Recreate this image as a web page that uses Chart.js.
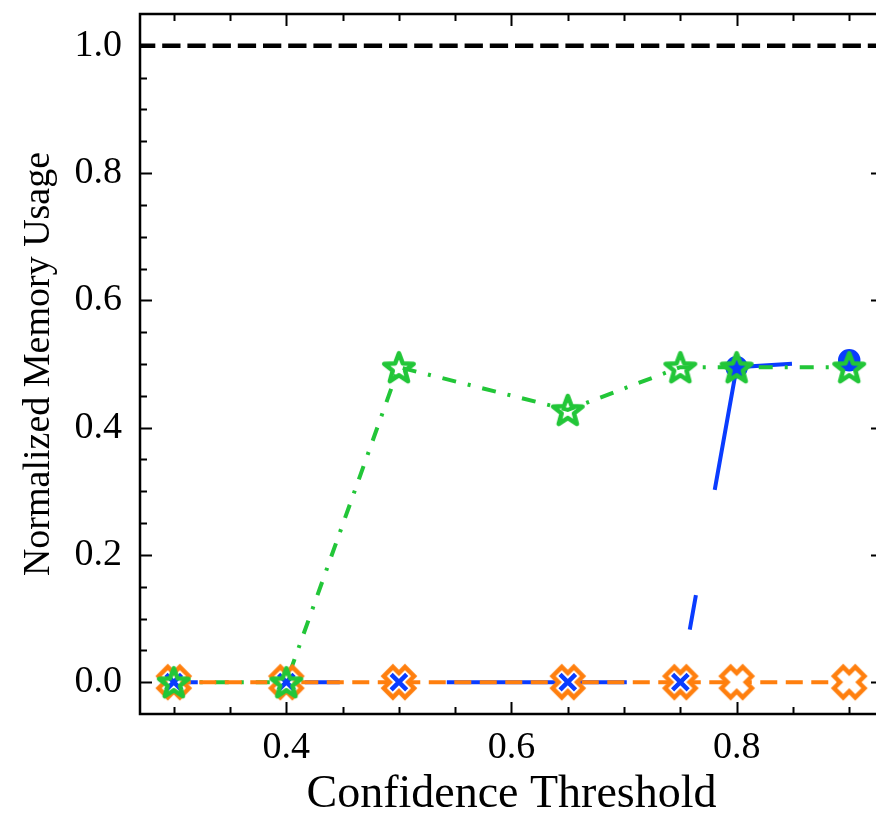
<!DOCTYPE html>
<html>
<head>
<meta charset="utf-8">
<script src="https://cdn.jsdelivr.net/npm/chart.js@4.4.1/dist/chart.umd.min.js"></script>
<style>
html,body{margin:0;padding:0;background:#fff;overflow:hidden;}
#wrap{position:absolute;left:0;top:-3px;width:900px;height:818px;}
</style>
</head>
<body>
<div id="wrap"><canvas id="c" width="900" height="818"></canvas></div>
<script>
// ---- data ----
const thresholds = [0.3, 0.4, 0.5, 0.65, 0.75, 0.8, 0.9];
const greenSeries = [0.0, 0.0, 0.495, 0.428, 0.495, 0.495, 0.495];
const blueSeries = [0.0, 0.0, 0.0, 0.0, 0.0, 0.495, 0.506];
const orangeSeries = [0.0, 0.0, 0.0, 0.0, 0.0, 0.0, 0.0];
const referenceLevel = 1.0;
const xMajorTicks = [0.4, 0.6, 0.8];
const xMinorTicks = [0.3, 0.35, 0.45, 0.5, 0.55, 0.65, 0.7, 0.75, 0.85, 0.9];
const yMajorTicks = [0.0, 0.2, 0.4, 0.6, 0.8, 1.0];
const yMinorTicks = [0.05,0.1,0.15,0.25,0.3,0.35,0.45,0.5,0.55,0.65,0.7,0.75,0.85,0.9,0.95];
const xRange = [0.27, 0.93];
const yRange = [-0.05, 1.05];
const xTitle = 'Confidence Threshold';
const yTitle = 'Normalized Memory Usage';

const GREEN = '#22c638';
const BLUE = '#0a3cff';
const ORANGE = '#ff7f0e';
const FONT = "'Liberation Serif', 'Times New Roman', serif";

function pts(ys){ return thresholds.map((x,i)=>({x:x, y:ys[i]})); }

// custom marker images
function makeStar(color, R, lw){
  const s = Math.ceil(2*R + lw + 4);
  const c = document.createElement('canvas'); c.width = s; c.height = s;
  const g = c.getContext('2d');
  g.translate(s/2, s/2 + R*0.1);
  g.beginPath();
  const r = R*0.42;
  for(let k=0;k<10;k++){
    const ang = -Math.PI/2 + k*Math.PI/5;
    const rr = (k%2===0)?R:r;
    const px = rr*Math.cos(ang), py = rr*Math.sin(ang);
    if(k===0) g.moveTo(px,py); else g.lineTo(px,py);
  }
  g.closePath();
  g.lineWidth = lw; g.strokeStyle = color; g.lineJoin = 'round';
  g.stroke();
  return c;
}
function makeFatX(color, b, a, lw){
  const ext = (a+b)/Math.SQRT2 + lw;
  const s = Math.ceil(2*ext + 2);
  const c = document.createElement('canvas'); c.width = s; c.height = s;
  const g = c.getContext('2d');
  g.translate(s/2, s/2);
  g.rotate(Math.PI/4);
  g.beginPath();
  const P = [[a,a],[b,a],[b,-a],[a,-a],[a,-b],[-a,-b],[-a,-a],[-b,-a],[-b,a],[-a,a],[-a,b],[a,b]];
  P.forEach((p,i)=>{ if(i===0) g.moveTo(p[0],p[1]); else g.lineTo(p[0],p[1]); });
  g.closePath();
  g.fillStyle = '#ffffff'; g.fill();
  g.lineWidth = lw; g.strokeStyle = color; g.lineJoin = 'miter';
  g.stroke();
  return c;
}
const starImg = makeStar(GREEN, 15.5, 4.5);
const xImg = makeFatX(ORANGE, 15, 6.5, 4.5);

// inward ticks + frame
const framePlugin = {
  id: 'frame',
  afterDatasetsDraw(chart){
    const {ctx, chartArea:ca, scales} = chart;
    const xs = scales.x, ys = scales.y;
    ctx.save();
    ctx.strokeStyle = '#000';
    ctx.lineWidth = 2;
    const MAJ = 12, MIN = 7;
    function xt(v, len){
      const p = Math.round(xs.getPixelForValue(v)) + 0.5;
      ctx.beginPath();
      ctx.moveTo(p, ca.bottom); ctx.lineTo(p, ca.bottom - len);
      ctx.moveTo(p, ca.top); ctx.lineTo(p, ca.top + len);
      ctx.stroke();
    }
    function yt(v, len){
      const p = Math.round(ys.getPixelForValue(v)) + 0.5;
      ctx.beginPath();
      ctx.moveTo(ca.left, p); ctx.lineTo(ca.left + len, p);
      ctx.moveTo(ca.right, p); ctx.lineTo(ca.right - len, p);
      ctx.stroke();
    }
    xMajorTicks.forEach(v=>xt(v,MAJ));
    xMinorTicks.forEach(v=>xt(v,MIN));
    yMajorTicks.forEach(v=>yt(v,MAJ));
    yMinorTicks.forEach(v=>yt(v,MIN));
    ctx.lineWidth = 2.5;
    ctx.strokeRect(ca.left, ca.top, ca.right-ca.left, ca.bottom-ca.top);
    ctx.restore();
  }
};

const lineBase = {showLine:true, pointRadius:0, pointHoverRadius:0, fill:false, tension:0, borderCapStyle:'butt'};
const markBase = {showLine:false};

new Chart(document.getElementById('c'), {
  type: 'scatter',
  data: {
    datasets: [
      Object.assign({label:'blue line', data:pts(blueSeries), borderColor:BLUE, borderWidth:4, borderDash:[180,107,35,107], borderDashOffset:156, order:7}, lineBase),
      Object.assign({label:'green line', data:pts(greenSeries), borderColor:GREEN, borderWidth:4, borderDash:[14,12,3,12], order:6}, lineBase),
      Object.assign({label:'orange line', data:pts(orangeSeries), borderColor:ORANGE, borderWidth:4, borderDash:[17,8.5], order:5}, lineBase),
      Object.assign({label:'orange marks', data:pts(orangeSeries), pointStyle:xImg, pointRadius:16, order:4}, markBase),
      Object.assign({label:'blue marks', data:pts(blueSeries),
        pointStyle:['crossRot','crossRot','crossRot','crossRot','crossRot','circle','circle'],
        pointRadius:[11,11,11,11,11,9,9], borderWidth:4.5, borderColor:BLUE, backgroundColor:BLUE, order:3}, markBase),
      Object.assign({label:'green marks', data:pts(greenSeries), pointStyle:starImg, pointRadius:16, order:2}, markBase),
      Object.assign({label:'reference', data:[{x:xRange[0], y:referenceLevel},{x:xRange[1], y:referenceLevel}],
        borderColor:'#000', borderWidth:4.5, borderDash:[18.3,6.9], borderDashOffset:3, order:1}, lineBase)
    ]
  },
  options: {
    responsive:false,
    animation:false,
    devicePixelRatio:1,
    events:[],
    layout:{padding:{top:10, right:13, left:0, bottom:0}},
    plugins:{legend:{display:false}, tooltip:{enabled:false}},
    scales:{
      x:{
        type:'linear', min:xRange[0], max:xRange[1],
        grid:{display:false}, border:{display:false},
        afterBuildTicks(s){ s.ticks = xMajorTicks.map(v=>({value:v})); },
        afterFit(s){ s.height = 101; s.paddingLeft = 0; s.paddingRight = 0; },
        ticks:{color:'#000', font:{family:FONT, size:38}, padding:3, maxRotation:0,
          callback:v=>Number(v).toFixed(1)},
        title:{display:true, text:xTitle, color:'#000', font:{family:FONT, size:46, lineHeight:0.87}, padding:{top:0,bottom:0}}
      },
      y:{
        type:'linear', min:yRange[0], max:yRange[1],
        grid:{display:false}, border:{display:false},
        afterBuildTicks(s){ s.ticks = yMajorTicks.map(v=>({value:v})); },
        afterFit(s){ s.width = 140; s.paddingTop = 0; s.paddingBottom = 0; },
        ticks:{color:'#000', font:{family:FONT, size:38}, padding:10,
          callback:v=>Number(v).toFixed(1)},
        title:{display:true, text:yTitle, color:'#000', font:{family:FONT, size:38, lineHeight:1.2}, padding:{top:16,bottom:0}}
      }
    }
  },
  plugins:[framePlugin]
});
</script>
</body>
</html>
